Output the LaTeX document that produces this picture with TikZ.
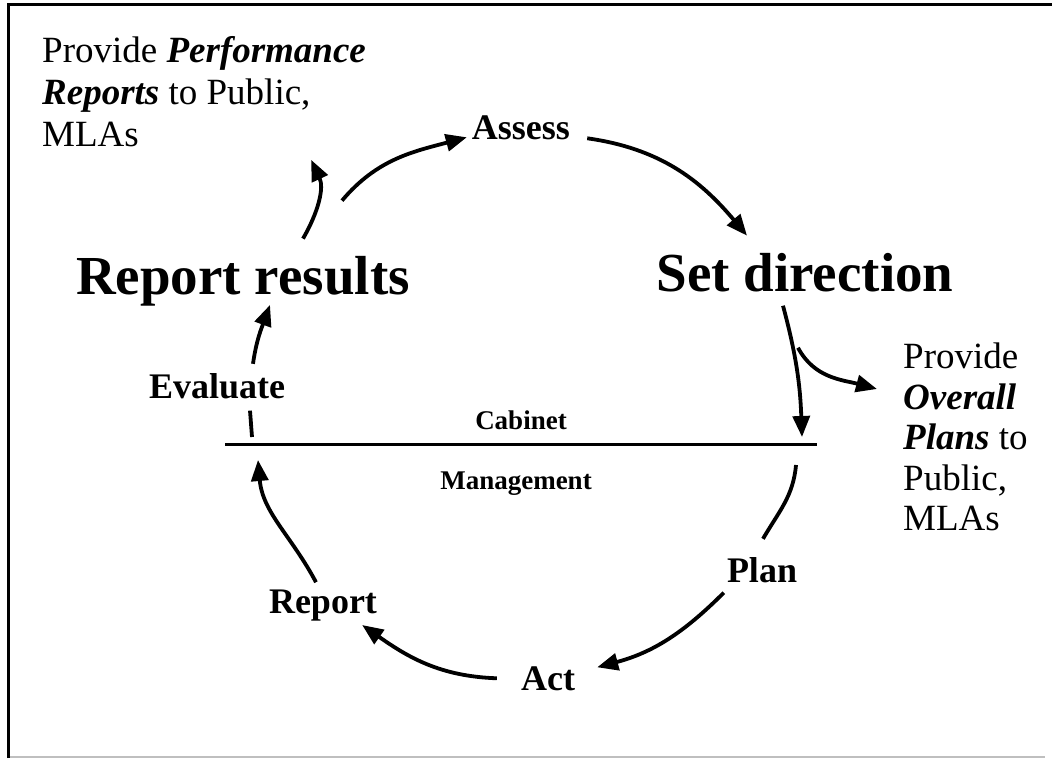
\documentclass[tikz,border=0pt]{standalone}
\usepackage{fontspec}
\setmainfont{Liberation Serif}
\usetikzlibrary{arrows.meta}
\usetikzlibrary{calc}

\begin{document}
\begin{tikzpicture}[x=1pt, y=1pt,
        cyc/.style={-{Triangle[length=21pt,width=17pt]}, line width=3.8pt},
        seg/.style={line width=3.8pt},
        stage/.style={inner sep=0pt, font=\fontsize{36}{40}\selectfont\bfseries},
        phase/.style={inner sep=0pt, font=\fontsize{55}{60}\selectfont\bfseries},
        side/.style={inner sep=0pt, font=\fontsize{27}{30}\selectfont\bfseries},
        note/.style={inner sep=0pt, align=left, anchor=north west}]
    \useasboundingbox (0,0) rectangle (1052,758);

    % frame
    \draw[line width=3pt] (8,0) -- (8,753) -- (1052,753);
    \draw[black!25, line width=1.5pt] (10,1) -- (1045,1);

    % outputs to the public
    \node[note, font=\fontsize{37}{42}\selectfont](perf) at (42,722) {Provide \textbf{\textit{Performance}}\\\textbf{\textit{Reports}} to Public,\\MLAs};
    \node[note, font=\fontsize{37}{40.5}\selectfont](ovr) at (903,415) {Provide\\\textbf{\textit{Overall}}\\\textbf{\textit{Plans}} to\\Public,\\MLAs};

    % the cycle
    \node[stage, anchor=base](assess) at (521,618) {Assess};
    \node[phase, anchor=base](rresults) at (243,463) {Report results};
    \node[phase, anchor=base](setdir) at (805,466) {Set direction};
    \node[stage, anchor=base](evaluate) at (217,359) {Evaluate};
    \node[stage, anchor=base](plan) at (762,175) {Plan};
    \node[stage, anchor=base](report) at (323,145) {Report};
    \node[stage, anchor=base](act) at (548,68) {Act};

    % cabinet / management split
    \coordinate (lineL) at (225,313);
    \coordinate (lineR) at (817,313);
    \draw[line width=3pt] (lineL) -- (lineR);
    \node[side, anchor=base](cabinet) at (521,328) {Cabinet};
    \node[side, anchor=base](mgmt) at (516,268) {Management};

    \draw[cyc] ($(rresults.north)+(99,56)$) to[out=50, in=195] ($(assess.west)+(-5,-9)$);
    \draw[cyc] ($(assess.east)+(17,-10)$) to[out=-8, in=130] ($(setdir.north)+(-58,18)$);
    \draw[cyc] ($(rresults.north)+(60,18)$) to[out=60, in=-65] ($(perf.south east)+(-55,-13)$);
    \draw[cyc] ($(setdir.south)+(-22,-13)$) to[out=-75, in=92] ($(lineR)+(-15,8)$);
    \draw[cyc] ($(setdir.south)+(-7,-55)$) to[out=-62, in=165] ($(ovr.north west)+(-26,-46)$);
    \draw[seg] ($(lineR)+(-21,-20)$) to[out=-95, in=60] ($(plan.north)+(1,19)$);
    \draw[cyc] ($(plan.west)+(-3,-22)$) to[out=-135, in=15] ($(act.east)+(22,11)$);
    \draw[cyc] ($(act.west)+(-24,0)$) to[out=178, in=-35] ($(report.east)+(-15,-20)$);
    \draw[cyc] ($(report.north)+(-7,7)$) to[out=118, in=-85] ($(lineL)+(33,-15)$);
    \draw[seg] ($(evaluate.south)+(33,-11)$) -- ($(lineL)+(27,8)$);
    \draw[cyc] ($(evaluate.north)+(36,10)$) to[out=82, in=-110] ($(rresults.south)+(27,2)$);
\end{tikzpicture}
\end{document}
